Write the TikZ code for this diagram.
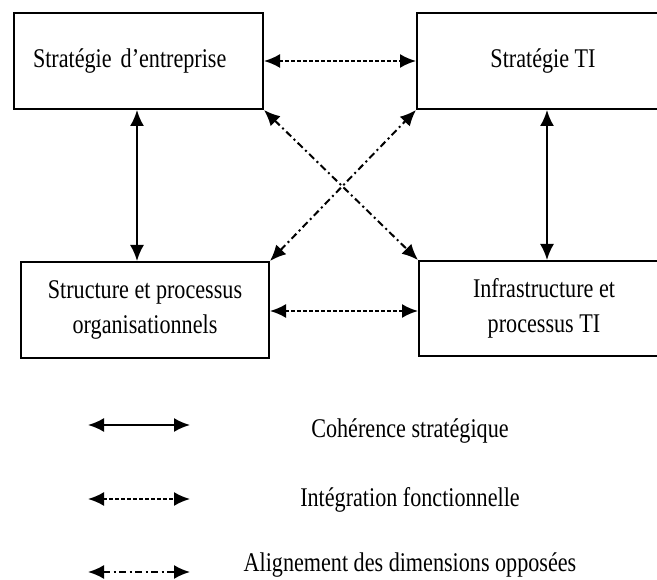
\documentclass[tikz,border=0pt]{standalone}
\usepackage{fontspec}
\setmainfont[FakeStretch=0.82]{Liberation Serif}
\usepackage{tikz}
\usetikzlibrary{arrows.meta}

\tikzset{
  box/.style={draw, line width=2pt, rectangle, align=center, inner sep=0pt},
  cohline/.style={line width=2pt, {Latex[length=16pt,width=14pt]}-{Latex[length=16pt,width=14pt]}},
  integline/.style={cohline, dash pattern=on 4pt off 2pt},
  oppline/.style={cohline, dash pattern=on 7pt off 3.5pt on 2pt off 3.5pt},
}

\begin{document}
\begin{tikzpicture}[x=1pt, y=-1pt, font=\fontsize{27}{35}\selectfont]

\useasboundingbox (0,0) rectangle (657,580);

\node[box, minimum height=96pt, text width=211pt, inner xsep=19pt, align=left] (strent) at (138.5,61) {Stratégie d'entreprise};
\node[box, minimum width=252pt, minimum height=96pt] (strti) at (543,61) {Stratégie TI};
\node[box, minimum width=248pt, minimum height=96pt] (strorg) at (145,310) {Structure et processus\\organisationnels};
\node[box, minimum width=250pt, minimum height=95pt] (infti) at (544,308.5) {Infrastructure et\\processus TI};

\draw[integline] (strent) -- (strti);
\draw[integline] (strorg.east |- 0,311) -- (infti.west |- 0,311);

\draw[cohline] ([xshift=-1.5pt]strent.south) -- ([xshift=-1.5pt]strent.south |- strorg.north);
\draw[cohline] ([xshift=4pt]strti.south) -- ([xshift=4pt]strti.south |- infti.north);

\draw[oppline] (strent.south east) -- (infti.north west);
\draw[oppline] (strorg.north east) -- (strti.south west);

\foreach \n/\y/\s in {1/425/cohline, 2/499/integline, 3/572/oppline}{
  \coordinate (l\n) at (88,\y);
  \coordinate (r\n) at (190,\y);
  \draw[\s] (l\n) -- (r\n);
}
\node[anchor=base] (coh) at (410,438) {Cohérence stratégique};
\node[anchor=base] (integ) at (410,507) {Intégration fonctionnelle};
\node[anchor=base] (opp) at (410,571) {Alignement des dimensions opposées};

\end{tikzpicture}
\end{document}
